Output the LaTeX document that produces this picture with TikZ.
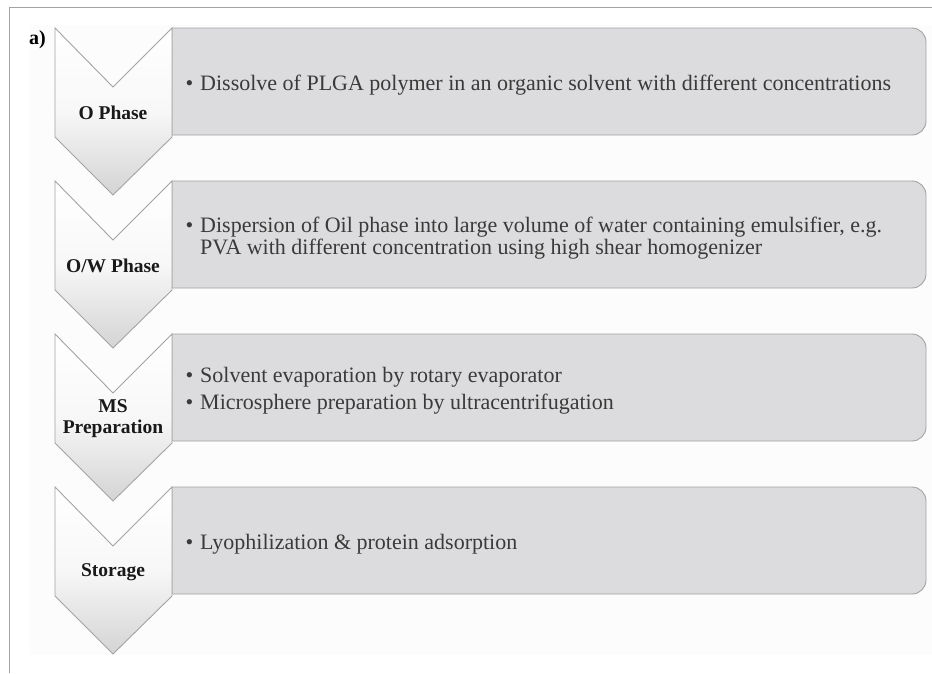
\documentclass[tikz,border=0pt]{standalone}
\usepackage{fontspec}
\setmainfont{Liberation Serif}
\usetikzlibrary{positioning}
\definecolor{boxfill}{HTML}{DCDCDE}
\definecolor{edgegray}{HTML}{A3A3A3}
\definecolor{txtgray}{HTML}{3A3A3A}
\tikzset{
  phase/.style={draw=edgegray, line width=0.9pt, top color=white, bottom color=black!17, middle color=black!3},
  stepbox/.style={draw=edgegray, line width=0.9pt, fill=boxfill},
  phaselabel/.style={font=\fontsize{19.5}{21}\selectfont\bfseries, align=center, text=black!90},
  bullettext/.style={font=\fontsize{22}{22}\selectfont, align=left, anchor=west, text=txtgray, inner sep=0pt},
}
\newcommand{\bul}{\llap{\textbullet\hspace{7pt}}}

\begin{document}
\begin{tikzpicture}[x=1pt, y=-1pt]
    \useasboundingbox (0,0) rectangle (932,673);
    \fill[gray!2] (30,25) rectangle (932,655);
    \draw[edgegray, line width=0.8pt] (932,7) -- (9,7) -- (9,673);
    \node[font=\fontsize{20}{21}\selectfont\bfseries, anchor=north west, inner sep=0pt] (tag) at (29,30) {a)};
    % chevrons and boxes, one per step
    \foreach \y/\i in {28/1,181/2,334/3,487/4} {
        \draw[stepbox] (172,\y) [rounded corners=14pt] -- (926,\y) -- (926,\y+107) [sharp corners] -- (172,\y+107) -- cycle;
        \draw[phase] (55,\y) -- (113,\y+59) -- (172,\y) -- (172,\y+109) -- (113,\y+167) -- (55,\y+109) -- cycle;
        \coordinate (mid\i) at (200,\y+57);
        \coordinate (lbl\i) at (113,\y+85);
    }
    \node[phaselabel] (p1) at (lbl1) {O Phase};
    \node[phaselabel] (p2) at (lbl2) {O/W Phase};
    \node[phaselabel] (p3) at (lbl3) {MS\\Preparation};
    \node[phaselabel] (p4) at (lbl4) {Storage};
    \node[bullettext] (s1) at (mid1) {\bul Dissolve of PLGA polymer in an organic solvent with different concentrations};
    \node[bullettext] (s2) at (mid2) {\bul Dispersion of Oil phase into large volume of water containing emulsifier, e.g.\\PVA with different concentration using high shear homogenizer};
    \node[bullettext] (s3) at (mid3) {\bul Solvent evaporation by rotary evaporator\\[5pt]\bul Microsphere preparation by ultracentrifugation};
    \node[bullettext] (s4) at (mid4) {\bul Lyophilization \& protein adsorption};
\end{tikzpicture}
\end{document}
